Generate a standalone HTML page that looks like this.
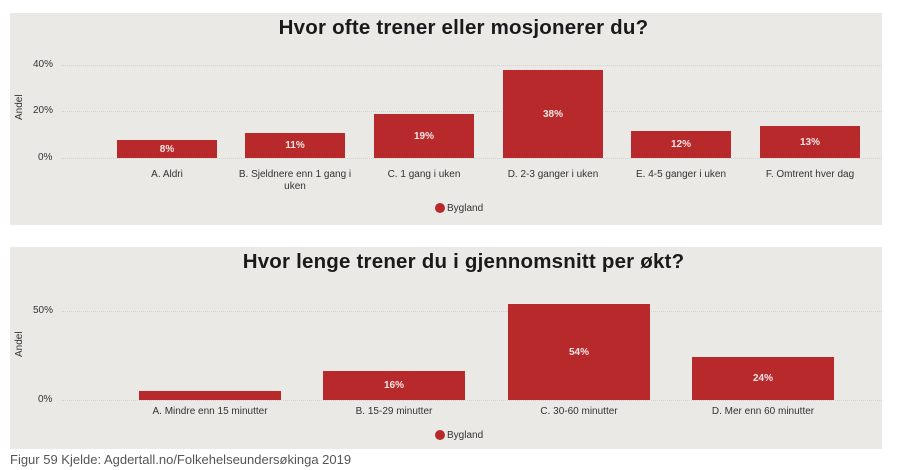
<!DOCTYPE html>
<html><head><meta charset="utf-8"><style>
body{margin:0;width:907px;height:470px;background:#fff;position:relative;overflow:hidden;font-family:"Liberation Sans",Arial,sans-serif}
.p{position:absolute;left:10px;width:872px;background:#ebe9e6}
.t{position:absolute;font-weight:bold;font-size:20.5px;color:#1a1a1a;text-align:center;width:100%;left:0;letter-spacing:0.2px}
.a{position:absolute;font-size:10px;color:#333}
.g{position:absolute;border-top:1px dotted #d4d2cf;height:0}
.b{position:absolute;background:#b7292b;color:#f3e6e6;font-size:10px;font-weight:bold;display:flex;align-items:center;justify-content:center}
.c{position:absolute;font-size:10px;color:#333;text-align:center;line-height:12px}
.y{position:absolute;font-size:10px;color:#333;transform:rotate(-90deg);transform-origin:left top}
.l{position:absolute;font-size:10px;color:#333}
.l:before{content:"";display:inline-block;width:10px;height:10px;border-radius:50%;background:#b7292b;vertical-align:-2px;margin-right:2px}
</style></head><body>
<div class="p" style="top:13px;height:212px"></div>
<div class="t" style="top:16px;left:10px">Hvor ofte trener eller mosjonerer du?</div>
<div class="g" style="left:62px;width:820px;top:65px"></div>
<div class="g" style="left:62px;width:820px;top:111px"></div>
<div class="g" style="left:62px;width:820px;top:158px"></div>
<div class="a" style="left:33px;top:59px">40%</div>
<div class="a" style="left:33px;top:105px">20%</div>
<div class="a" style="left:38px;top:152px">0%</div>
<div class="y" style="left:14px;top:120px">Andel</div>
<div class="b" style="left:117px;width:100px;top:140px;height:18px">8%</div>
<div class="b" style="left:245px;width:100px;top:133px;height:25px">11%</div>
<div class="b" style="left:374px;width:100px;top:114px;height:44px">19%</div>
<div class="b" style="left:503px;width:100px;top:70px;height:88px">38%</div>
<div class="b" style="left:631px;width:100px;top:131px;height:27px">12%</div>
<div class="b" style="left:760px;width:100px;top:126px;height:32px">13%</div>
<div class="c" style="left:107px;width:120px;top:169px">A. Aldri</div>
<div class="c" style="left:230px;width:130px;top:169px">B. Sjeldnere enn 1 gang i uken</div>
<div class="c" style="left:359px;width:130px;top:169px">C. 1 gang i uken</div>
<div class="c" style="left:488px;width:130px;top:169px">D. 2-3 ganger i uken</div>
<div class="c" style="left:616px;width:130px;top:169px">E. 4-5 ganger i uken</div>
<div class="c" style="left:745px;width:130px;top:169px">F. Omtrent hver dag</div>
<div class="l" style="left:435px;top:203px">Bygland</div>

<div class="p" style="top:247px;height:202px"></div>
<div class="t" style="top:250px;left:10px">Hvor lenge trener du i gjennomsnitt per økt?</div>
<div class="g" style="left:62px;width:820px;top:311px"></div>
<div class="g" style="left:62px;width:820px;top:400px"></div>
<div class="a" style="left:33px;top:305px">50%</div>
<div class="a" style="left:38px;top:394px">0%</div>
<div class="y" style="left:14px;top:357px">Andel</div>
<div class="b" style="left:139px;width:142px;top:391px;height:9px"></div>
<div class="b" style="left:323px;width:142px;top:371px;height:29px">16%</div>
<div class="b" style="left:508px;width:142px;top:304px;height:96px">54%</div>
<div class="b" style="left:692px;width:142px;top:357px;height:43px">24%</div>
<div class="c" style="left:130px;width:160px;top:406px">A. Mindre enn 15 minutter</div>
<div class="c" style="left:314px;width:160px;top:406px">B. 15-29 minutter</div>
<div class="c" style="left:499px;width:160px;top:406px">C. 30-60 minutter</div>
<div class="c" style="left:683px;width:160px;top:406px">D. Mer enn 60 minutter</div>
<div class="l" style="left:435px;top:430px">Bygland</div>
<div style="position:absolute;left:10px;top:452px;font-size:13px;color:#555">Figur 59 Kjelde: Agdertall.no/Folkehelseundersøkinga 2019</div>
</body></html>
